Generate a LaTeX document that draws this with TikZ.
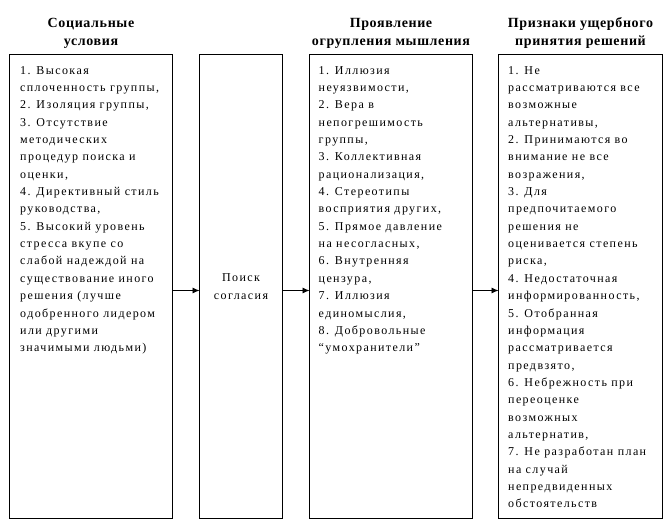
\documentclass[tikz,border=0pt]{standalone}
\usepackage{fontspec}
\setmainfont{Liberation Serif}
\newfontfamily\listfont{Liberation Serif}[LetterSpace=11.7]
\newfontfamily\headfont{Liberation Serif}[LetterSpace=4.5]
\usetikzlibrary{positioning, arrows.meta}
\tikzset{
  colbox/.style={draw, line width=0.8pt, minimum height=464pt, inner sep=0pt, outer sep=0pt},
  listtext/.style={anchor=north west, align=left, inner sep=0pt,
    font=\listfont\fontsize{12}{17.35}\selectfont},
  heading/.style={anchor=south, align=center, inner sep=0pt,
    font=\headfont\bfseries\fontsize{14}{18}\selectfont},
  flow/.style={-{Latex[length=7pt,width=6pt]}, line width=0.8pt},
}
\begin{document}
\begin{tikzpicture}
  \useasboundingbox (0,0) rectangle (670pt,-520pt);

  % columns
  \node[colbox, minimum width=163pt, anchor=north west] (soc) at (9.5pt,-54.5pt) {};
  \node[colbox, minimum width=83pt, right=27pt of soc] (poisk) {};
  \node[colbox, minimum width=163pt, right=27pt of poisk] (prov) {};
  \node[colbox, minimum width=164pt, right=26pt of prov] (priz) {};

  % headings
  \node[heading] (socH) at ([yshift=5.5pt]soc.north) {Социальные\\условия};
  \node[heading] (provH) at ([yshift=5.5pt]prov.north) {Проявление\\огрупления мышления};
  \node[heading] (prizH) at ([yshift=5.5pt]priz.north) {Признаки ущербного\\принятия решений};

  % contents
  \node[listtext] (socT) at ([xshift=10.5pt,yshift=-11.5pt]soc.north west) {%
    1. Высокая\\
    сплоченность группы,\\
    2. Изоляция группы,\\
    3. Отсутствие\\
    методических\\
    процедур поиска и\\
    оценки,\\
    4. Директивный стиль\\
    руководства,\\
    5. Высокий уровень\\
    стресса вкупе со\\
    слабой надеждой на\\
    существование иного\\
    решения (лучше\\
    одобренного лидером\\
    или другими\\
    значимыми людьми)};
  \node[align=center, inner sep=0pt, font=\listfont\fontsize{12}{18}\selectfont]
    (poiskT) at (poisk.center) {Поиск\\согласия};
  \node[listtext] (provT) at ([xshift=9pt,yshift=-11.5pt]prov.north west) {%
    1. Иллюзия\\
    неуязвимости,\\
    2. Вера в\\
    непогрешимость\\
    группы,\\
    3. Коллективная\\
    рационализация,\\
    4. Стереотипы\\
    восприятия других,\\
    5. Прямое давление\\
    на несогласных,\\
    6. Внутренняя\\
    цензура,\\
    7. Иллюзия\\
    единомыслия,\\
    8. Добровольные\\
    “умохранители”};
  \node[listtext] (prizT) at ([xshift=9.5pt,yshift=-11.5pt]priz.north west) {%
    1. Не\\
    рассматриваются все\\
    возможные\\
    альтернативы,\\
    2. Принимаются во\\
    внимание не все\\
    возражения,\\
    3. Для\\
    предпочитаемого\\
    решения не\\
    оценивается степень\\
    риска,\\
    4. Недостаточная\\
    информированность,\\
    5. Отобранная\\
    информация\\
    рассматривается\\
    предвзято,\\
    6. Небрежность при\\
    переоценке\\
    возможных\\
    альтернатив,\\
    7. Не разработан план\\
    на случай\\
    непредвиденных\\
    обстоятельств};

  % arrows
  \draw[flow] ([yshift=-4pt]soc.east) -- ([yshift=-4pt]poisk.west);
  \draw[flow] ([yshift=-4pt]poisk.east) -- ([yshift=-4pt]prov.west);
  \draw[flow] ([yshift=-4pt]prov.east) -- ([yshift=-4pt]priz.west);
\end{tikzpicture}
\end{document}
